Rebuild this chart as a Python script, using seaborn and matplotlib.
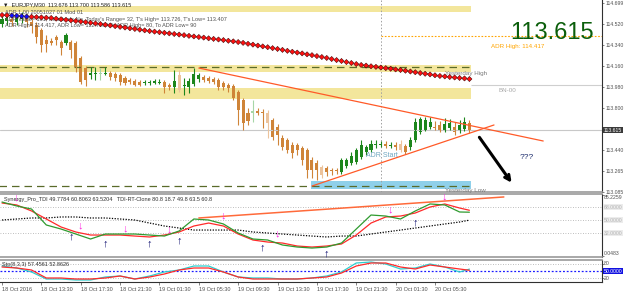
import numpy as np
import pandas as pd
import seaborn as sns
import matplotlib.pyplot as plt

sns.set_theme(style="white")
plt.rcParams['font.family'] = ['Liberation Sans', 'DejaVu Sans']

# EURJPY M30 candles, 18 Oct 09:30 .. 20 Oct 08:00
opens = [114.521, 114.547, 114.564, 114.538, 114.564, 114.581, 114.538, 114.513, 114.470, 114.385,
         114.376, 114.410, 114.367, 114.359, 114.367, 114.359, 114.231, 114.145, 114.085, 114.094,
         114.094, 114.094, 114.102, 114.094, 114.085, 114.060, 114.043, 114.034, 114.025, 114.017,
         114.017, 114.017, 114.017, 114.025, 114.000, 113.983, 114.085, 113.991, 113.983, 114.008,
         114.051, 114.068, 114.060, 114.051, 114.043, 114.017, 114.000, 113.991, 113.940, 113.872,
         113.760, 113.760, 113.777, 113.769, 113.760, 113.700, 113.641, 113.547, 113.530, 113.487,
         113.487, 113.461, 113.444, 113.359, 113.333, 113.299, 113.290, 113.273, 113.273, 113.256,
         113.307, 113.333, 113.341, 113.384, 113.427, 113.444, 113.487, 113.487, 113.495, 113.478,
         113.487, 113.495, 113.478, 113.470, 113.530, 113.598, 113.615, 113.641, 113.641, 113.658,
         113.615, 113.632, 113.641, 113.606, 113.624, 113.676]
highs = [114.598, 114.607, 114.590, 114.607, 114.624, 114.607, 114.564, 114.538, 114.487, 114.427,
         114.402, 114.427, 114.385, 114.444, 114.385, 114.376, 114.248, 114.162, 114.154, 114.154,
         114.145, 114.154, 114.120, 114.111, 114.102, 114.077, 114.060, 114.051, 114.043, 114.043,
         114.043, 114.051, 114.051, 114.043, 114.017, 114.128, 114.128, 114.060, 114.060, 114.145,
         114.102, 114.085, 114.077, 114.068, 114.060, 114.034, 114.017, 114.008, 113.957, 113.889,
         113.803, 113.872, 113.803, 113.795, 113.786, 113.718, 113.666, 113.572, 113.547, 113.512,
         113.504, 113.478, 113.461, 113.384, 113.359, 113.316, 113.307, 113.290, 113.290, 113.376,
         113.376, 113.427, 113.461, 113.530, 113.487, 113.530, 113.530, 113.521, 113.521, 113.512,
         113.512, 113.530, 113.495, 113.555, 113.718, 113.722, 113.726, 113.726, 113.692, 113.692,
         113.718, 113.709, 113.683, 113.700, 113.726, 113.700]
lows = [114.496, 114.513, 114.504, 114.513, 114.530, 114.496, 114.444, 114.359, 114.282, 114.282,
        114.342, 114.342, 114.256, 114.342, 114.231, 114.111, 114.008, 113.991, 114.051, 114.043,
        114.043, 114.085, 114.043, 114.034, 114.000, 114.000, 114.008, 113.991, 113.991, 114.000,
        114.000, 114.008, 114.008, 113.931, 113.957, 113.931, 113.940, 113.914, 113.931, 113.991,
        114.025, 114.025, 114.017, 114.008, 113.957, 113.957, 113.940, 113.872, 113.658, 113.615,
        113.658, 113.683, 113.743, 113.632, 113.547, 113.530, 113.487, 113.444, 113.418, 113.376,
        113.401, 113.316, 113.205, 113.205, 113.188, 113.205, 113.222, 113.230, 113.239, 113.239,
        113.290, 113.316, 113.324, 113.367, 113.401, 113.427, 113.461, 113.470, 113.461, 113.461,
        113.444, 113.427, 113.410, 113.444, 113.512, 113.581, 113.606, 113.624, 113.615, 113.598,
        113.598, 113.615, 113.572, 113.589, 113.606, 113.586]
closes = [114.564, 114.573, 114.538, 114.573, 114.590, 114.538, 114.504, 114.410, 114.342, 114.350,
          114.359, 114.385, 114.316, 114.427, 114.299, 114.154, 114.025, 114.043, 114.102, 114.102,
          114.102, 114.102, 114.068, 114.060, 114.025, 114.017, 114.025, 114.000, 114.000, 114.025,
          114.025, 114.034, 114.025, 113.983, 113.983, 114.034, 113.957, 114.000, 114.034, 114.094,
          114.085, 114.043, 114.034, 114.025, 113.983, 113.983, 113.974, 113.889, 113.786, 113.675,
          113.692, 113.777, 113.760, 113.760, 113.675, 113.555, 113.572, 113.470, 113.444, 113.418,
          113.444, 113.359, 113.273, 113.273, 113.273, 113.230, 113.256, 113.264, 113.264, 113.359,
          113.359, 113.393, 113.444, 113.487, 113.470, 113.495, 113.495, 113.495, 113.478, 113.487,
          113.470, 113.444, 113.427, 113.530, 113.683, 113.709, 113.700, 113.683, 113.632, 113.615,
          113.666, 113.675, 113.598, 113.658, 113.683, 113.615]
pale_bars = [20, 36, 51, 54, 65, 81]

# red diamond moving average on the price chart
ma_line = [114.598, 114.596, 114.593, 114.591, 114.588, 114.585, 114.583, 114.580, 114.578, 114.575,
           114.573, 114.567, 114.562, 114.557, 114.552, 114.547, 114.542, 114.537, 114.532, 114.526,
           114.521, 114.515, 114.509, 114.503, 114.497, 114.491, 114.485, 114.479, 114.473, 114.467,
           114.461, 114.456, 114.451, 114.446, 114.441, 114.436, 114.431, 114.426, 114.420, 114.415,
           114.410, 114.405, 114.399, 114.394, 114.389, 114.384, 114.378, 114.373, 114.367, 114.360,
           114.352, 114.345, 114.337, 114.330, 114.323, 114.315, 114.308, 114.300, 114.292, 114.284,
           114.277, 114.270, 114.262, 114.255, 114.247, 114.239, 114.231, 114.222, 114.213, 114.205,
           114.196, 114.188, 114.179, 114.171, 114.166, 114.160, 114.155, 114.149, 114.144, 114.139,
           114.133, 114.128, 114.122, 114.115, 114.109, 114.102, 114.096, 114.090, 114.083, 114.077,
           114.073, 114.068, 114.064, 114.060, 114.056, 114.051]
ma_blue = [2, 3, 4, 5]

# levels
band_top = (114.624, 114.675)
band_yh = (114.111, 114.171)
band_mid = (113.880, 113.974)
box_yl = (113.111, 113.179)
yest_high = 114.154
yest_low = 113.136
adr_high = 114.417
big_number = 114.000
bid = 113.615
adr_start_bar = 77
trend_down = ([40, 110], [114.145, 113.521])
trend_up = ([63, 100], [113.136, 113.658])
arrow_from = (96.7, 113.572)
arrow_to = (103.9, 113.145)

price_ticks = [114.699, 114.520, 114.340, 114.160, 113.980, 113.800, 113.440, 113.265, 113.085]

# TDI panel, sampled every 3 bars
tdi_bars = list(range(0, 94, 3)) + [95]
tdi_rsi = [74.9, 69.4, 65.2, 43.1, 37.5, 30.6, 23.7, 30.6, 30.6, 30.6, 29.2, 27.8, 34.8, 51.4, 50.0, 44.5,
           32.0, 23.7, 22.3, 15.4, 12.6, 11.2, 12.6, 18.1, 37.5, 56.9, 55.5, 51.4, 62.5, 72.2, 70.8, 61.1, 60.8]
tdi_signal = [73.5, 70.8, 62.5, 51.4, 40.3, 33.4, 29.2, 29.2, 29.2, 27.8, 26.5, 29.2, 33.4, 41.7, 45.8, 41.7,
              30.6, 22.3, 19.5, 18.1, 14.0, 12.6, 14.0, 16.8, 29.2, 45.8, 54.2, 55.5, 59.7, 68.0, 72.2, 66.6, 63.5]
tdi_base = [50.0, 51.4, 52.8, 52.8, 54.2, 54.2, 52.8, 52.8, 51.4, 50.0, 45.8, 41.7, 38.9, 36.1, 36.1, 36.1,
            36.1, 33.4, 32.0, 30.6, 29.2, 27.8, 26.5, 27.8, 27.8, 30.6, 33.4, 36.1, 38.9, 41.7, 44.5, 47.2, 49.8]
tdi_trend = ([40, 102], [52.8, 81.9])
sell_bars = [3, 16, 25, 34, 45, 56, 79, 90]
sell_vals = [80.5, 43.1, 38.9, 37.5, 56.9, 32.0, 65.2, 81.9]
buy_bars = [14, 21, 30, 36, 53, 66, 84]
buy_vals = [26.5, 18.1, 18.1, 22.3, 12.6, 4.3, 47.2]

# stochastic
sto_main = [70, 62, 46, 18, 18, 14, 14, 26, 30, 18, 30, 46, 54, 70, 70, 46,
            26, 22, 22, 18, 18, 22, 30, 46, 82, 86, 78, 58, 62, 78, 66, 46, 57.5]
sto_signal = [66, 62, 54, 22, 22, 18, 18, 22, 30, 18, 26, 38, 54, 62, 62, 46,
              26, 18, 18, 18, 18, 22, 26, 42, 70, 82, 82, 66, 58, 74, 66, 58, 52.9]

date_bars = list(range(0, 89, 8))
date_labels = ["18 Oct 2016", "18 Oct 13:30", "18 Oct 17:30", "18 Oct 21:30", "19 Oct 01:30",
               "19 Oct 05:30", "19 Oct 09:30", "19 Oct 13:30", "19 Oct 17:30", "19 Oct 21:30",
               "20 Oct 01:30", "20 Oct 05:30"]

candles = pd.DataFrame({"open": opens, "high": highs, "low": lows, "close": closes})
candles["bar"] = np.arange(len(candles))
candles["up"] = candles["close"] >= candles["open"]

bull, bear = "#1c861c", "#cf8438"
bull_pale, bear_pale = "#a6d6a6", "#ecc39c"
cols = []
for i, r in candles.iterrows():
    if i in pale_bars:
        cols.append(bull_pale if r.up else bear_pale)
    else:
        cols.append(bull if r.up else bear)
body = (candles["close"] - candles["open"]).abs()
body_h = body.clip(lower=0.007)
body_b = np.where(body < 0.007, (candles["open"] + candles["close"]) / 2 - 0.0035,
                  candles[["open", "close"]].min(axis=1))

xmax = 121.95
xl = (-0.41, xmax)
fig = plt.figure(figsize=(6.25, 2.98), dpi=100)
ax = fig.add_axes([0, 0.3557, 0.9632, 0.6443])
ax_t = fig.add_axes([0, 0.1376, 0.9632, 0.2114])
ax_s = fig.add_axes([0, 0.0537, 0.9632, 0.0738])

tiny = 4
axfs = 3.7
grey_txt = "#505050"

# ---- price panel
band_col = "#f3e69c"
last = len(candles) - 1 + 0.4
ax.fill_between([-1, last], *band_top, color=band_col, lw=0)
ax.fill_between([-1, last], *band_yh, color=band_col, lw=0)
ax.fill_between([-1, last], *band_mid, color=band_col, lw=0)
ax.fill_between([62.8, last], *box_yl, color="#8fd0ea", lw=0)
ax.hlines([yest_high, yest_low], -1, last, colors="#5a6b2a", lw=0.9, linestyles=(0, (6, 4)))
ax.axhline(bid, color="#c8c8c8", lw=0.8)
ax.hlines(big_number, last, xmax, colors="#cfcfcf", lw=0.8)
ax.hlines(adr_high, adr_start_bar, xmax, colors="#ffa500", lw=0.8, linestyles=(0, (1.5, 1.5)))
ax.axvline(adr_start_bar, color="#a0a0a0", lw=0.7, ls=(0, (1.5, 2)))

ax.vlines(candles["bar"], candles["low"], candles["high"], colors=cols, lw=0.8)
ax.bar(candles["bar"], body_h, bottom=body_b, width=0.62, color=cols, lw=0)

ma_cols = ["#1010ff" if i in ma_blue else "#ff1010" for i in range(len(ma_line))]
sns.scatterplot(x=np.arange(len(ma_line)), y=ma_line, ax=ax, marker="D", s=7,
                c=ma_cols, edgecolor="#300000", linewidth=0.35, zorder=5)

ax.plot(*trend_down, color="#ff5a28", lw=0.9)
ax.plot(*trend_up, color="#ff5a28", lw=0.9)
ax.annotate("", xy=arrow_to, xytext=arrow_from,
            arrowprops=dict(arrowstyle="->", lw=2.2, color="black", mutation_scale=9))

ax.text(0.005, 0.974, "\u25bc  EURJPY,M30  113.676 113.700 113.586 113.615", transform=ax.transAxes,
        fontsize=tiny, color="#202020", va="center")
ax.text(0.008, 0.9375, "ADR 1.00 20051027 01 Mod 01", transform=ax.transAxes,
        fontsize=tiny, color=grey_txt, va="center")
ax.text(0.008, 0.901, "ADR Value= 101, Reached= No, Today's Range= 32, T's High= 113.726, T's Low= 113.407",
        transform=ax.transAxes, fontsize=tiny, color=grey_txt, va="center")
ax.text(0.008, 0.865, "ADR High= 114.417, ADR Low= 112.716 / To ADR High= 80, To ADR Low= 90",
        transform=ax.transAxes, fontsize=tiny, color=grey_txt, va="center")
ax.text(0.987, 0.797, "113.615", transform=ax.transAxes, fontsize=17, color="#0b5e0b",
        ha="right", va="baseline")
ax.text(99.4, adr_high - 0.066, "ADR High: 114.417", fontsize=4.5, color="#ffa500", va="top")
ax.text(90, 114.102, "Yesterday High", fontsize=4.5, color="#7a7a7a", va="center")
ax.text(101, 113.957, "BN-00", fontsize=4.5, color="#a8a8a8", va="center")
ax.text(90, 113.098, "Yesterday Low", fontsize=4.5, color="#7a7a7a", va="center")
ax.text(74, 113.401, "ADR Start", fontsize=5, color="#6ea6c0", va="center")
ax.text(105.3, 113.384, "???", fontsize=6, color="#1e2e6e", va="center")

ax.set_xlim(*xl)
ax.set_ylim(113.085, 114.7265)
ax.yaxis.tick_right()
ax.set_yticks(price_ticks)
ax.set_yticklabels([f"{v:.3f}" for v in price_ticks])
ax.text(1.003, bid, "113.615", transform=ax.get_yaxis_transform(), fontsize=axfs, color="white",
        va="center", bbox=dict(fc="#3a3a3a", ec="none", pad=0.5))

# ---- TDI panel
for lv in (68, 50, 32):
    ax_t.axhline(lv, color="#a8a8a8", lw=0.6, ls=(0, (1, 2)))
sns.lineplot(x=tdi_bars, y=tdi_base, ax=ax_t, color="black", lw=0.9, ls=(0, (1, 1.2)))
sns.lineplot(x=tdi_bars, y=tdi_signal, ax=ax_t, color="#ff2a2a", lw=0.9)
sns.lineplot(x=tdi_bars, y=tdi_rsi, ax=ax_t, color="#2f9b2f", lw=0.9)
ax_t.plot(*tdi_trend, color="#ff6a3a", lw=1.1)
for b, v in zip(sell_bars, sell_vals):
    ax_t.text(b, v, "\u2193", fontsize=8, fontweight="bold", color="#ff28e0", ha="center", va="center")
for b, v in zip(buy_bars, buy_vals):
    ax_t.text(b, v, "\u2191", fontsize=8, fontweight="bold", color="#101070", ha="center", va="center")
ax_t.text(0.006, 0.92, "Synergy_Pro_TDI 49.7784 60.8063 63.5204   TDI-RT-Clone 80.8 18.7 49.8 63.5 60.8",
          transform=ax_t.transAxes, fontsize=tiny, color="#303030", va="center")
ax_t.set_xlim(*xl)
ax_t.set_ylim(-1.2, 86)
ax_t.set_yticks([85.2259, 68, 50, 32, 0.0483])
ax_t.set_yticklabels([])
ax_t.yaxis.tick_right()
yt = ax_t.get_yaxis_transform()
ax_t.text(1.003, 81.5, "85.2259", transform=yt, fontsize=axfs, color=grey_txt, va="center")
ax_t.text(1.003, 3.0, "0.0483", transform=yt, fontsize=axfs, color=grey_txt, va="center")
for lv in (68, 50, 32):
    ax_t.text(1.003, lv, f"{lv:.4f}", transform=yt, fontsize=axfs, color="#b4b4b4", va="center",
              bbox=dict(fc="#ececec", ec="none", pad=0.5))

# ---- stochastic panel
ax_s.axhline(80, color="#a8a8a8", lw=0.6, ls=(0, (1, 2)))
ax_s.axhline(20, color="#a8a8a8", lw=0.6, ls=(0, (1, 2)))
ax_s.axhline(50, color="#1a1aff", lw=0.9, ls=(0, (1.5, 1.5)))
sns.lineplot(x=tdi_bars, y=sto_main, ax=ax_s, color="#2ccfcf", lw=0.9)
sns.lineplot(x=tdi_bars, y=sto_signal, ax=ax_s, color="#ff2a2a", lw=0.9)
ax_s.text(0.004, 0.8, "Sto(8,3,3) 57.4561 52.8626", transform=ax_s.transAxes, fontsize=tiny,
          color="#303030", va="center")
ax_s.set_xlim(*xl)
ax_s.set_ylim(6, 94)
ax_s.yaxis.tick_right()
ax_s.set_yticks([80, 50, 20])
ax_s.set_yticklabels([])
st = ax_s.get_yaxis_transform()
ax_s.text(1.003, 80, "80", transform=st, fontsize=axfs, color=grey_txt, va="center")
ax_s.text(1.003, 20, "20", transform=st, fontsize=axfs, color=grey_txt, va="center")
ax_s.text(1.003, 50, "50.0000", transform=st, fontsize=axfs, color="white", va="center",
          bbox=dict(fc="#1010e0", ec="none", pad=0.5))
ax_s.set_xticks(date_bars)
ax_s.set_xticklabels(date_labels, ha="left")

for a in (ax, ax_t, ax_s):
    a.set_xlabel("")
    a.set_ylabel("")
    a.grid(False)
    a.tick_params(axis="y", length=1.5, width=0.5, pad=0.8, labelsize=axfs, colors=grey_txt, right=True)
    a.spines["left"].set_visible(False)
    a.spines["right"].set_color("#303030")
    a.spines["right"].set_linewidth(0.8)
    a.spines["top"].set_color("#9a9a9a")
    a.spines["bottom"].set_color("#9a9a9a")
    a.spines["top"].set_linewidth(1.2)
    a.spines["bottom"].set_linewidth(1.2)
for a in (ax, ax_t):
    a.set_xticks([])
ax.spines["top"].set_visible(False)
ax_s.spines["bottom"].set_color("#303030")
ax_s.spines["bottom"].set_linewidth(0.8)
ax_s.tick_params(axis="x", length=2, width=0.5, pad=1.5, labelsize=tiny, colors=grey_txt, bottom=True)

fig.savefig("out.png", dpi=100)
